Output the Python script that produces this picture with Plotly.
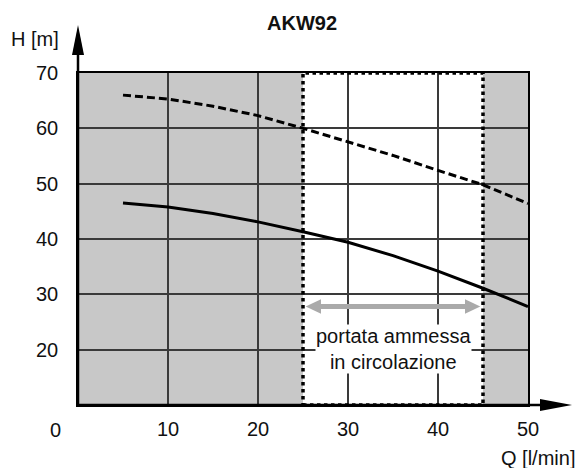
import plotly.graph_objects as go

# Pump curve AKW92: flow Q [l/min] vs head H [m]
q_points = [5, 10, 15, 20, 25, 30, 35, 40, 45, 50]
h_max = [66.0, 65.3, 64.0, 62.3, 60.0, 57.6, 55.1, 52.4, 49.8, 46.4]
h_min = [46.5, 45.8, 44.6, 43.1, 41.3, 39.4, 37.0, 34.2, 31.1, 27.8]

# admissible circulation flow band
band_q = [25, 45]
arrow_level = 27.8

x_ticks = [10, 20, 30, 40, 50]
y_ticks = [20, 30, 40, 50, 60, 70]
x_range = [0, 50]
y_range = [10, 70]

FONT = "Liberation Sans, Arial, sans-serif"
TXT = "#111111"
FS = 20

fig = go.Figure()

fig.add_trace(go.Scatter(
    x=q_points, y=h_max, mode="lines",
    line=dict(color="black", width=3, dash="8px,4px"),
    hoverinfo="skip", showlegend=False))
fig.add_trace(go.Scatter(
    x=q_points, y=h_min, mode="lines",
    line=dict(color="black", width=3),
    hoverinfo="skip", showlegend=False))

shapes = []
# white band behind the grid
shapes.append(dict(type="rect", xref="x", yref="y", layer="below",
                   x0=band_q[0], x1=band_q[1], y0=y_range[0], y1=y_range[1],
                   fillcolor="white", line=dict(width=0)))
# dotted border of the band
shapes.append(dict(type="rect", xref="x", yref="y", layer="above",
                   x0=band_q[0], x1=band_q[1], y0=y_range[0], y1=y_range[1],
                   fillcolor="rgba(0,0,0,0)",
                   line=dict(color="black", width=3.5, dash="dot")))

# double-headed grey arrow across the band
head_len = 1.7   # in Q units
head_half = 1.3  # in H units
a0, a1 = band_q[0] + 0.3, band_q[1] - 0.3
shapes.append(dict(type="line", xref="x", yref="y", layer="above",
                   x0=a0 + head_len * 0.8, x1=a1 - head_len * 0.8,
                   y0=arrow_level, y1=arrow_level,
                   line=dict(color="#aaaaaa", width=5)))
for tip, sgn in ((a0, 1), (a1, -1)):
    shapes.append(dict(
        type="path", xref="x", yref="y", layer="above",
        path=f"M {tip},{arrow_level} L {tip + sgn * head_len},{arrow_level + head_half} "
             f"L {tip + sgn * head_len},{arrow_level - head_half} Z",
        fillcolor="#aaaaaa", line=dict(width=0)))

# axis arrows (paper coordinates, extending past the frame)
plot_w, plot_h = 450, 332
shapes.append(dict(type="line", xref="paper", yref="paper", layer="above",
                   x0=0, x1=0, y0=0, y1=1.06, line=dict(color="black", width=2.5)))
shapes.append(dict(type="path", xref="paper", yref="paper", layer="above",
                   path=f"M 0,{1 + 48/plot_h} L {-6/plot_w},{1 + 18/plot_h} "
                        f"L {6/plot_w},{1 + 18/plot_h} Z",
                   fillcolor="black", line=dict(width=0)))
shapes.append(dict(type="line", xref="paper", yref="paper", layer="above",
                   x0=0, x1=1.03, y0=0, y1=0, line=dict(color="black", width=2.5)))
shapes.append(dict(type="path", xref="paper", yref="paper", layer="above",
                   path=f"M {1 + 44/plot_w},0 L {1 + 12/plot_w},{6/plot_h} "
                        f"L {1 + 12/plot_w},{-6/plot_h} Z",
                   fillcolor="black", line=dict(width=0)))

annotations = [
    dict(text="<b>AKW92</b>", xref="paper", yref="paper", x=0.497, y=(405 - 23) / plot_h,
         showarrow=False, font=dict(size=FS, color=TXT, family=FONT),
         xanchor="center", yanchor="middle"),
    dict(text="H [m]", xref="paper", yref="paper", x=-17/plot_w, y=1 + 34/plot_h,
         showarrow=False, font=dict(size=FS, color=TXT, family=FONT),
         xanchor="right", yanchor="middle"),
    dict(text="Q [l/min]", xref="paper", yref="paper", x=1 + 49/plot_w, y=-53/plot_h,
         showarrow=False, font=dict(size=FS, color=TXT, family=FONT),
         xanchor="right", yanchor="middle"),
    dict(text="0", xref="paper", yref="paper", x=-23/plot_w, y=-25/plot_h,
         showarrow=False, font=dict(size=FS, color=TXT, family=FONT),
         xanchor="center", yanchor="middle"),
    dict(text="portata ammessa<br>in circolazione", xref="x", yref="y",
         x=sum(band_q) / 2, y=20.2, showarrow=False,
         font=dict(size=FS, color=TXT, family=FONT),
         bgcolor="white", borderpad=0, align="center"),
]

fig.update_layout(
    width=577, height=468,
    margin=dict(l=78, r=49, t=73, b=63),
    paper_bgcolor="white", plot_bgcolor="#c8c8c8",
    shapes=shapes, annotations=annotations,
    font=dict(family=FONT, size=FS, color=TXT),
)
fig.update_xaxes(range=x_range, tickvals=x_ticks, showgrid=True,
                 gridcolor="#3a3a3a", gridwidth=1.5, zeroline=False,
                 showline=True, linecolor="black", linewidth=1.5, mirror=True,
                 ticks="", ticklabelstandoff=5, fixedrange=True)
fig.update_yaxes(range=y_range, tickvals=y_ticks, showgrid=True,
                 gridcolor="#3a3a3a", gridwidth=1.5, zeroline=False,
                 showline=True, linecolor="black", linewidth=1.5, mirror=True,
                 ticks="", ticklabelstandoff=14, fixedrange=True)

fig.write_html("out.html")
